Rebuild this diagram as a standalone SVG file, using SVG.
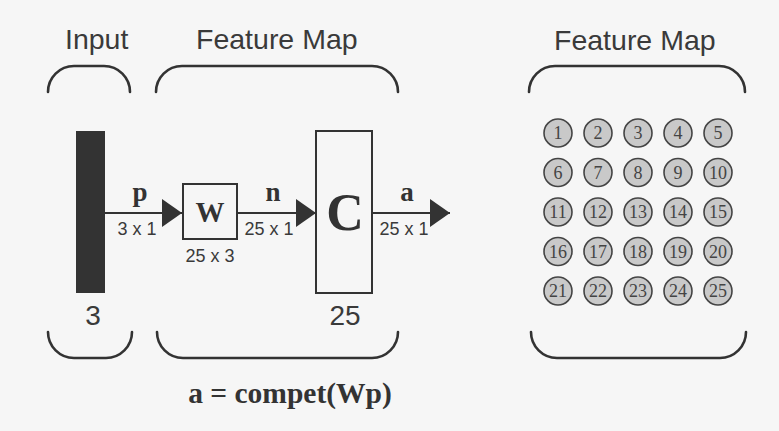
<svg xmlns="http://www.w3.org/2000/svg" width="779" height="431" viewBox="0 0 779 431">
  <defs>
    <style>
      .brace { fill: none; stroke: #333; stroke-width: 2.6; stroke-linecap: round; }
      .head { font-family: "Liberation Sans", Arial, sans-serif; font-size: 28.5px; fill: #3a3a3a; }
      .dim { font-family: "Liberation Sans", Arial, sans-serif; font-size: 18px; fill: #3a3a3a; }
      .size { font-family: "Liberation Sans", Arial, sans-serif; font-size: 28px; fill: #3a3a3a; }
      .sym { font-family: "Liberation Serif", "Times New Roman", serif; font-weight: bold; fill: #333; }
      .box { fill: none; stroke: #333; stroke-width: 2; }
      .wire { fill: none; stroke: #333; stroke-width: 2; }
      .neuron circle { fill: #c9c9c9; stroke: #444; stroke-width: 1.6; }
      .neuron text { font-family: "Liberation Serif", "Times New Roman", serif; font-size: 18px; fill: #444; text-anchor: middle; }
    </style>
    <marker id="arrow" viewBox="0 0 20 28" refX="20" refY="14" markerWidth="20" markerHeight="28" markerUnits="userSpaceOnUse" orient="auto">
      <path d="M0,0 L20,14 L0,28 Z" fill="#333"/>
    </marker>
  </defs>

  <rect width="779" height="431" fill="#f6f6f6"/>

  <!-- section titles -->
  <text class="head" x="65" y="49">Input</text>
  <text class="head" x="196" y="49">Feature Map</text>
  <text class="head" x="554" y="50">Feature Map</text>

  <!-- upper braces -->
  <g id="braces">
    <path class="brace" d="M48,92 A26,26 0 0 1 74,66 L104,66 A26,26 0 0 1 130,92"/>
    <path class="brace" d="M156,92 A26,26 0 0 1 182,66 L372,66 A26,26 0 0 1 398,92"/>
    <path class="brace" d="M529,92 A26,26 0 0 1 555,66 L719,66 A26,26 0 0 1 745,92"/>
    <!-- lower braces -->
    <path class="brace" d="M48,332 A26,26 0 0 0 74,358 L106,358 A26,26 0 0 0 132,332"/>
    <path class="brace" d="M157,332 A26,26 0 0 0 183,358 L372,358 A26,26 0 0 0 398,332"/>
    <path class="brace" d="M531,332 A26,26 0 0 0 557,358 L720,358 A26,26 0 0 0 746,332"/>
  </g>

  <!-- input vector -->
  <g id="input">
    <rect x="76" y="131" width="29" height="162" fill="#333"/>
    <text class="size" x="93" y="325" text-anchor="middle">3</text>
  </g>

  <!-- weight matrix -->
  <g id="weights">
    <rect class="box" x="183" y="184" width="54" height="55"/>
    <text class="sym" x="210" y="222" font-size="29" text-anchor="middle">W</text>
    <text class="dim" x="210" y="262" text-anchor="middle">25 x 3</text>
  </g>

  <!-- competitive layer -->
  <g id="compet">
    <rect class="box" x="316" y="131" width="56" height="162"/>
    <text class="sym" x="345" y="230" font-size="52" text-anchor="middle">C</text>
    <text class="size" x="345" y="325" text-anchor="middle">25</text>
  </g>

  <!-- signal flow -->
  <g id="connectors">
    <line class="wire" x1="105" y1="213" x2="182" y2="213" marker-end="url(#arrow)"/>
    <line class="wire" x1="237" y1="213" x2="316" y2="213" marker-end="url(#arrow)"/>
    <line class="wire" x1="372" y1="213" x2="450" y2="213" marker-end="url(#arrow)"/>
    <text class="sym" x="140" y="201" font-size="27" text-anchor="middle">p</text>
    <text class="dim" x="137" y="235" text-anchor="middle">3 x 1</text>
    <text class="sym" x="273" y="201" font-size="27" text-anchor="middle">n</text>
    <text class="dim" x="269" y="235" text-anchor="middle">25 x 1</text>
    <text class="sym" x="407" y="201" font-size="27" text-anchor="middle">a</text>
    <text class="dim" x="404" y="235" text-anchor="middle">25 x 1</text>
  </g>

  <!-- transfer equation -->
  <text class="sym" x="290" y="403" font-size="29.5" text-anchor="middle">a = compet(Wp)</text>

  <!-- 5x5 neuron map -->
  <g id="map" class="neuron">
    <g id="n1"><circle cx="558" cy="133" r="14"/><text x="558" y="139">1</text></g>
    <g id="n2"><circle cx="598" cy="133" r="14"/><text x="598" y="139">2</text></g>
    <g id="n3"><circle cx="638" cy="133" r="14"/><text x="638" y="139">3</text></g>
    <g id="n4"><circle cx="678" cy="133" r="14"/><text x="678" y="139">4</text></g>
    <g id="n5"><circle cx="718" cy="133" r="14"/><text x="718" y="139">5</text></g>
    <g id="n6"><circle cx="558" cy="172.5" r="14"/><text x="558" y="178.5">6</text></g>
    <g id="n7"><circle cx="598" cy="172.5" r="14"/><text x="598" y="178.5">7</text></g>
    <g id="n8"><circle cx="638" cy="172.5" r="14"/><text x="638" y="178.5">8</text></g>
    <g id="n9"><circle cx="678" cy="172.5" r="14"/><text x="678" y="178.5">9</text></g>
    <g id="n10"><circle cx="718" cy="172.5" r="14"/><text x="718" y="178.5">10</text></g>
    <g id="n11"><circle cx="558" cy="212" r="14"/><text x="558" y="218">11</text></g>
    <g id="n12"><circle cx="598" cy="212" r="14"/><text x="598" y="218">12</text></g>
    <g id="n13"><circle cx="638" cy="212" r="14"/><text x="638" y="218">13</text></g>
    <g id="n14"><circle cx="678" cy="212" r="14"/><text x="678" y="218">14</text></g>
    <g id="n15"><circle cx="718" cy="212" r="14"/><text x="718" y="218">15</text></g>
    <g id="n16"><circle cx="558" cy="251.5" r="14"/><text x="558" y="257.5">16</text></g>
    <g id="n17"><circle cx="598" cy="251.5" r="14"/><text x="598" y="257.5">17</text></g>
    <g id="n18"><circle cx="638" cy="251.5" r="14"/><text x="638" y="257.5">18</text></g>
    <g id="n19"><circle cx="678" cy="251.5" r="14"/><text x="678" y="257.5">19</text></g>
    <g id="n20"><circle cx="718" cy="251.5" r="14"/><text x="718" y="257.5">20</text></g>
    <g id="n21"><circle cx="558" cy="291" r="14"/><text x="558" y="297">21</text></g>
    <g id="n22"><circle cx="598" cy="291" r="14"/><text x="598" y="297">22</text></g>
    <g id="n23"><circle cx="638" cy="291" r="14"/><text x="638" y="297">23</text></g>
    <g id="n24"><circle cx="678" cy="291" r="14"/><text x="678" y="297">24</text></g>
    <g id="n25"><circle cx="718" cy="291" r="14"/><text x="718" y="297">25</text></g>
  </g>
</svg>
